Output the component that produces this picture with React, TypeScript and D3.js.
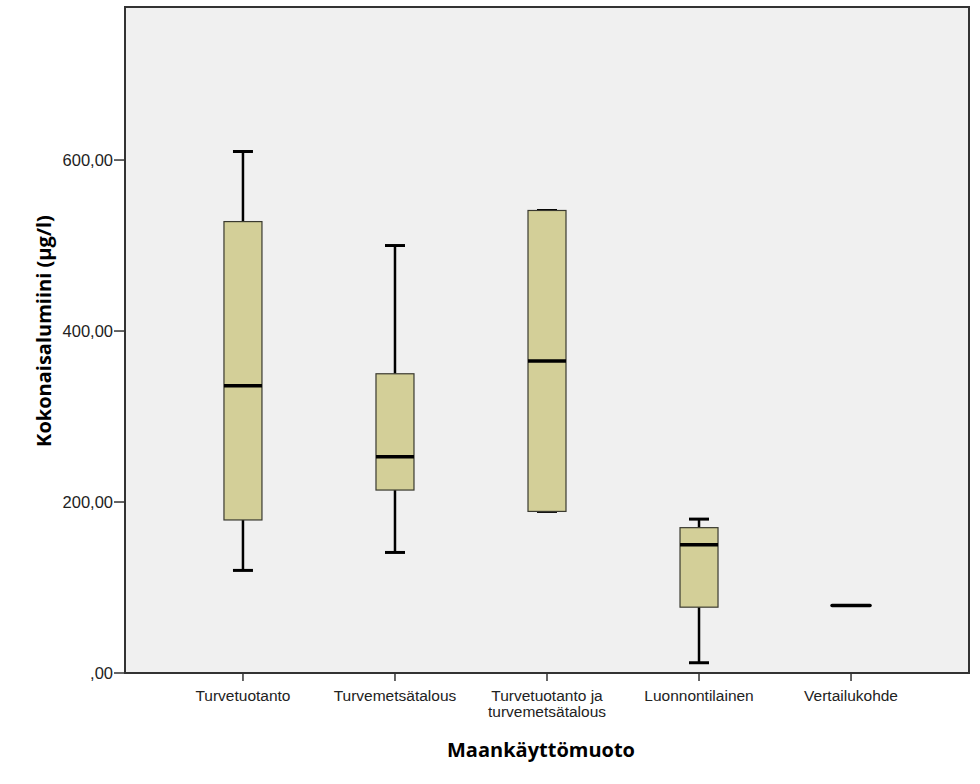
import React from "react";
import * as d3 from "d3";

const categories = ["Turvetuotanto", "Turvemetsätalous", "Turvetuotanto ja\nturvemetsätalous", "Luonnontilainen", "Vertailukohde"];
const whiskerLow = [120, 141, 189, 12, 79];
const q1 = [179, 214, 189, 77, 79];
const medians = [336, 253, 365, 150, 79];
const q3 = [528, 350, 541, 170, 79];
const whiskerHigh = [610, 500, 541, 180, 79];
const yTicks = [0, 200, 400, 600];
const yTickLabels = [",00", "200,00", "400,00", "600,00"];

const W = 980, H = 784;
const left = 125, right = 969, top = 7, bottom = 673;

export default function App() {
  const x = d3.scalePoint<string>().domain(categories).range([left, right]).padding(0.776);
  const y = d3.scaleLinear().domain([0, 779]).range([bottom, top]);
  const boxW = 38, capW = 20;
  const tickFont = "Liberation Sans, Arial, sans-serif";
  const titleFont = "Open Sans, DejaVu Sans, sans-serif";
  return (
    <svg width={W} height={H} style={{ position: "absolute", left: 0, top: 0 }}>
      <rect x={0} y={0} width={W} height={H} fill="#fff" />
      <rect x={left} y={top} width={right - left} height={bottom - top} fill="#f0f0f0" stroke="#333" strokeWidth={2} />
      {categories.map((c, i) => {
        const cx = x(c)!;
        const single = q1[i] === q3[i];
        return (
          <g key={c}>
            {!single && (
              <>
                <line x1={cx} x2={cx} y1={y(whiskerHigh[i])} y2={y(q3[i])} stroke="#000" strokeWidth={2.5} />
                <line x1={cx} x2={cx} y1={y(q1[i])} y2={y(whiskerLow[i])} stroke="#000" strokeWidth={2.5} />
                <line x1={cx - capW / 2} x2={cx + capW / 2} y1={y(whiskerHigh[i])} y2={y(whiskerHigh[i])} stroke="#000" strokeWidth={3} />
                <line x1={cx - capW / 2} x2={cx + capW / 2} y1={y(whiskerLow[i])} y2={y(whiskerLow[i])} stroke="#000" strokeWidth={3} />
                <rect x={cx - boxW / 2} y={y(q3[i])} width={boxW} height={y(q1[i]) - y(q3[i])} fill="#d3cf98" stroke="#3a3a30" strokeWidth={1.2} />
              </>
            )}
            <line x1={cx - boxW / 2} x2={cx + boxW / 2} y1={y(medians[i])} y2={y(medians[i])} stroke="#000" strokeWidth={3.5} strokeLinecap={single ? "round" : "butt"} />
            <line x1={cx} x2={cx} y1={bottom} y2={bottom + 8} stroke="#333" strokeWidth={1.5} />
            <text x={cx} y={701} textAnchor="middle" fontFamily={tickFont} fontSize={15.5} fill="#222">
              {c.split("\n").map((s, k) => (
                <tspan key={k} x={cx} dy={k === 0 ? 0 : 16}>{s}</tspan>
              ))}
            </text>
          </g>
        );
      })}
      {yTicks.map((t, i) => (
        <g key={t}>
          <line x1={left - 11} x2={left} y1={y(t)} y2={y(t)} stroke="#333" strokeWidth={1.5} />
          <text x={left - 12} y={y(t)} dy="0.35em" textAnchor="end" fontFamily={tickFont} fontSize={16.5} fill="#222">{yTickLabels[i]}</text>
        </g>
      ))}
      <text transform={`translate(51,331) rotate(-90)`} textAnchor="middle" fontFamily={titleFont} fontWeight="bold" fontSize={20} fill="#000">Kokonaisalumiini (µg/l)</text>
      <text x={541} y={757} textAnchor="middle" fontFamily={titleFont} fontWeight="bold" fontSize={20} fill="#000">Maankäyttömuoto</text>
    </svg>
  );
}
